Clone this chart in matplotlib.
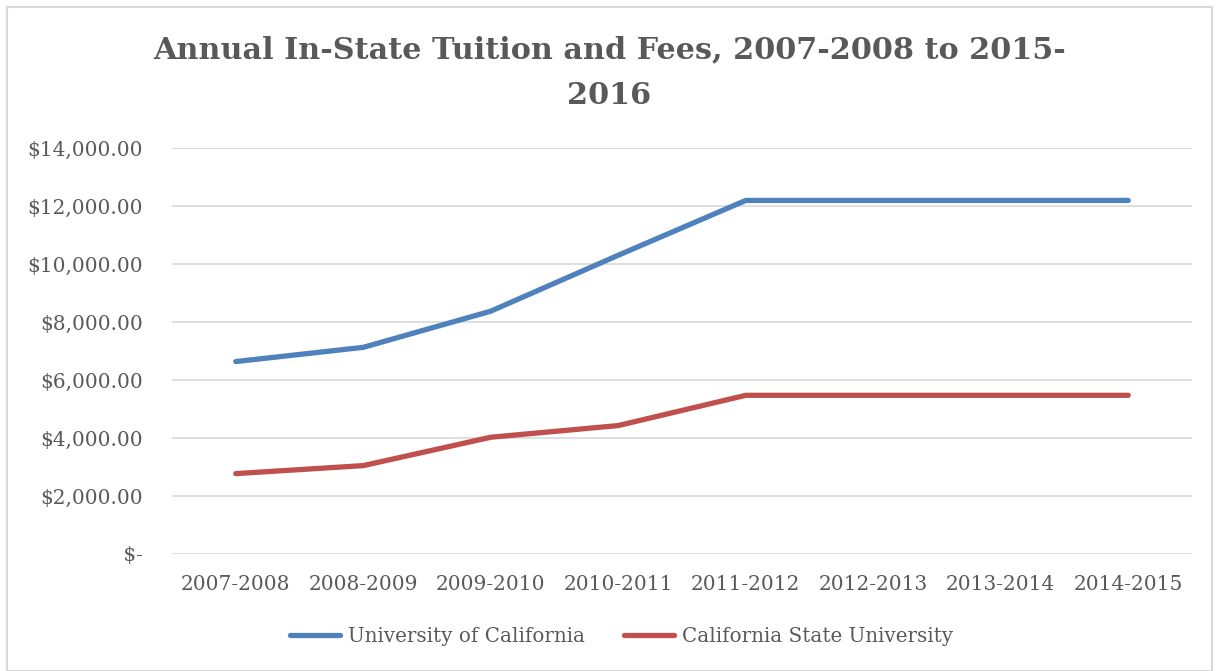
import matplotlib
matplotlib.use("Agg")
import matplotlib.pyplot as plt
from matplotlib.patches import Rectangle
from matplotlib.ticker import FuncFormatter

years = ["2007-2008", "2008-2009", "2009-2010", "2010-2011",
         "2011-2012", "2012-2013", "2013-2014", "2014-2015"]
uc = [6636, 7126, 8373, 10302, 12192, 12192, 12192, 12192]
csu = [2772, 3048, 4026, 4429, 5472, 5472, 5472, 5472]

plt.rcParams['font.family'] = ['DejaVu Serif']
gray = "#595959"

fig = plt.figure(figsize=(12.19, 6.71), dpi=100)
W, H = 1219, 671
# light frame round the chart
fig.patches.append(Rectangle((7 / W, 0), 1 - 14 / W, 1 - 7 / H, transform=fig.transFigure,
                             fill=False, edgecolor="#D9D9D9", linewidth=1.5))

ax = fig.add_axes([172 / W, (H - 554) / H, (1192 - 172) / W, 406 / H])
x = range(len(years))
ax.plot(x, uc, color="#4F81BD", linewidth=3.8, solid_capstyle="round", label="University of California")
ax.plot(x, csu, color="#C0504D", linewidth=3.8, solid_capstyle="round", label="California State University")

ax.set_xlim(-0.5, len(years) - 0.5)
ax.set_ylim(0, 14000)
ax.set_yticks(range(0, 14001, 2000))
ax.yaxis.set_major_formatter(FuncFormatter(lambda v, p: " $-" if v == 0 else f"${v:,.2f}"))
ax.set_xticks(list(x))
ax.set_xticklabels(years)
ax.grid(axis="y", color="#D9D9D9", linewidth=1.2)
ax.set_axisbelow(True)
for s in ax.spines.values():
    s.set_visible(False)
ax.tick_params(length=0, labelsize=14.5, colors=gray, pad=15)
ax.tick_params(axis="y", pad=21)

fig.text(0.5, 1 - 50 / H, "Annual In-State Tuition and Fees, 2007-2008 to 2015-",
         ha="center", va="center", fontsize=21.8, fontweight="bold", color=gray)
fig.text(0.5, 1 - 95 / H, "2016",
         ha="center", va="center", fontsize=21.8, fontweight="bold", color=gray)

leg = fig.legend(loc="center", bbox_to_anchor=(0.51, 1 - 636 / H), ncol=2, frameon=False,
                 fontsize=14.3, handlelength=2.5, columnspacing=2.0, handletextpad=0.4)
for t in leg.get_texts():
    t.set_color(gray)

fig.savefig("out.png", dpi=100)
